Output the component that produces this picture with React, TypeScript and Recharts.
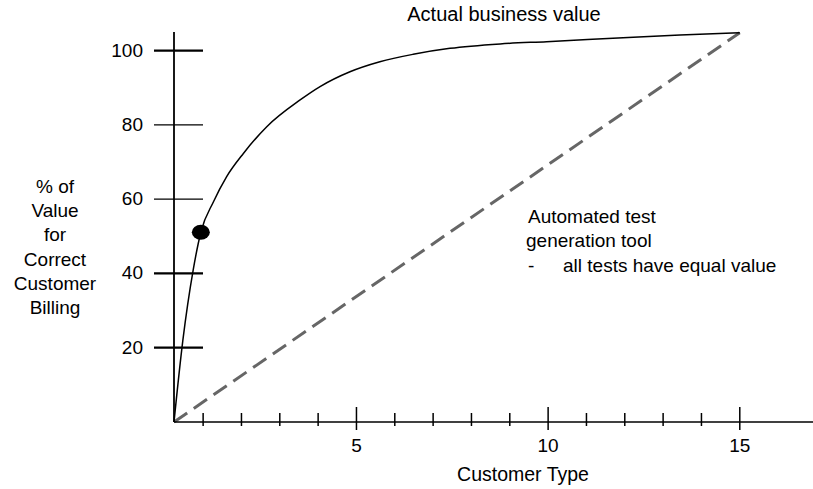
import React from "react";
import {
  LineChart,
  Line,
  XAxis,
  YAxis,
  ReferenceDot,
} from "recharts";

const FONT = "'Liberation Sans', Arial, sans-serif";

// curve (x in customer-type units, y in %)
const businessX = [0.24, 0.47, 0.74, 0.94, 1.27, 1.61, 2.05, 2.66, 3.53, 4.05, 4.83, 5.61, 6.48, 7.44, 8.75, 9.96, 11.69, 13.44, 15.0];
const businessY = [0, 21.9, 40.9, 51.1, 59.3, 66.0, 72.3, 79.5, 86.7, 90.3, 94.3, 97.0, 99.0, 100.6, 101.8, 102.4, 103.3, 104.2, 104.8];

// straight line: every test has equal value
const equalX = [0.24, 15.0];
const equalY = [0, 104.8];

// marked point on the curve
const markX = 0.94;
const markY = 51.1;

const xTicks = [1, 2, 3, 4, 5, 6, 7, 8, 9, 10, 11, 12, 13, 14, 15];
const xLabelled = [5, 10, 15];
const yTicks = [20, 40, 60, 80, 100];
const yThin = [60, 80];

const yLabelLines = ["% of", "Value", "for", "Correct", "Customer", "Billing"];

const businessData = businessX.map((x, i) => ({ x, value: businessY[i] }));
const equalData = equalX.map((x, i) => ({ x, equal: equalY[i] }));

function XTick(props: any) {
  const { x, y, payload } = props;
  const major = payload.value % 5 === 0;
  return (
    <g>
      <line
        x1={x}
        x2={x}
        y1={y - (major ? 15 : 9)}
        y2={y + (major ? 8 : 4)}
        stroke="#000"
        strokeWidth={1.5}
      />
      {xLabelled.includes(payload.value) && (
        <text x={x} y={y + 30} textAnchor="middle" fontSize={19} fontFamily={FONT} fill="#000">
          {payload.value}
        </text>
      )}
    </g>
  );
}

function YTick(props: any) {
  const { x, y, payload } = props;
  return (
    <g>
      <line
        x1={x - 20}
        x2={x + 29}
        y1={y}
        y2={y}
        stroke="#000"
        strokeWidth={yThin.includes(payload.value) ? 1.2 : 2.2}
      />
      <text x={x - 31} y={y + 6} textAnchor="end" fontSize={19} fontFamily={FONT} fill="#000">
        {payload.value}
      </text>
    </g>
  );
}

export default function App() {
  return (
    <div style={{ position: "absolute", left: 0, top: 0, background: "#fff" }}>
      <LineChart
        width={813}
        height={489}
        margin={{ top: 32, right: 0, bottom: 0, left: 0 }}
      >
        <XAxis
          type="number"
          dataKey="x"
          domain={[0.24, 16.91]}
          ticks={xTicks}
          tick={<XTick />}
          tickLine={false}
          tickSize={0}
          tickMargin={0}
          height={67}
          axisLine={{ stroke: "#000", strokeWidth: 1.5 }}
          allowDuplicatedCategory={false}
        />
        <YAxis
          type="number"
          domain={[0, 105]}
          ticks={yTicks}
          tick={<YTick />}
          tickLine={false}
          tickSize={0}
          tickMargin={0}
          width={174}
          axisLine={{ stroke: "#000", strokeWidth: 1.8 }}
        />
        <Line
          data={equalData}
          dataKey="equal"
          type="linear"
          stroke="#666"
          strokeWidth={3}
          strokeDasharray="16 8"
          dot={false}
          activeDot={false}
          isAnimationActive={false}
        />
        <Line
          data={businessData}
          dataKey="value"
          type="monotone"
          stroke="#000"
          strokeWidth={1.5}
          dot={false}
          activeDot={false}
          isAnimationActive={false}
        />
        <ReferenceDot
          x={markX}
          y={markY}
          shape={(p: any) => <ellipse cx={p.cx} cy={p.cy} rx={9} ry={7.5} fill="#000" />}
        />

        <text x={504} y={21} textAnchor="middle" fontSize={20} fontFamily={FONT} fill="#000">
          Actual business value
        </text>
        <text x={523} y={481} textAnchor="middle" fontSize={19.5} fontFamily={FONT} fill="#000">
          Customer Type
        </text>
        {yLabelLines.map((line, i) => (
          <text key={line} x={55} y={193 + i * 24.2} textAnchor="middle" fontSize={19} fontFamily={FONT} fill="#000">
            {line}
          </text>
        ))}
        <text x={528} y={223} fontSize={19} fontFamily={FONT} fill="#000">
          Automated test
        </text>
        <text x={526} y={247} fontSize={19} fontFamily={FONT} fill="#000">
          generation tool
        </text>
        <text x={528} y={272} fontSize={19} fontFamily={FONT} fill="#000">
          -
        </text>
        <text x={563} y={272} fontSize={19} fontFamily={FONT} fill="#000">
          all tests have equal value
        </text>
      </LineChart>
    </div>
  );
}
